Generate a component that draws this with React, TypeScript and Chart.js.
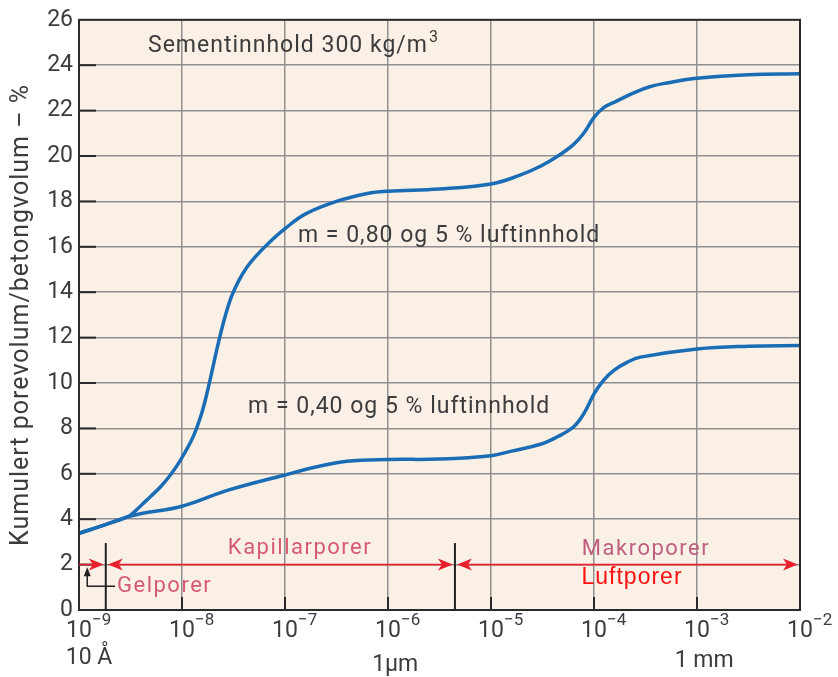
import React, { useEffect, useRef } from 'react';
import { Chart, registerables } from 'chart.js';

Chart.register(...registerables);

// ---- data (x as log10 of pore diameter in metres, y in %) ----
const xTickExponents = [-9, -8, -7, -6, -5, -4, -3, -2];

const upperExp = [-9, -8.75, -8.53, -8.45, -8.38, -8.3, -8.21, -8.13, -8.05, -7.97, -7.89, -7.82, -7.76, -7.7, -7.64, -7.58, -7.52, -7.45, -7.37, -7.28, -7.15, -7.0, -6.8, -6.5, -6.2, -6.0, -5.5, -5.0, -4.75, -4.52, -4.35, -4.2, -4.1, -4.0, -3.9, -3.78, -3.62, -3.46, -3.29, -3.0, -2.5, -2.0];
const upperVal = [3.38, 3.75, 4.1, 4.38, 4.68, 5.02, 5.42, 5.85, 6.35, 6.95, 7.65, 8.5, 9.5, 10.7, 11.9, 12.95, 13.8, 14.5, 15.1, 15.6, 16.2, 16.8, 17.45, 18.0, 18.35, 18.45, 18.55, 18.77, 19.1, 19.55, 20.0, 20.5, 21.0, 21.7, 22.15, 22.42, 22.77, 23.05, 23.22, 23.43, 23.58, 23.62];

const lowerExp = [-9, -8.75, -8.53, -8.38, -8.0, -7.56, -7.0, -6.7, -6.4, -6.0, -5.5, -5.0, -4.8, -4.52, -4.36, -4.2, -4.1, -4.0, -3.91, -3.81, -3.68, -3.55, -3.0, -2.5, -2.0];
const lowerVal = [3.38, 3.75, 4.1, 4.26, 4.57, 5.27, 5.95, 6.3, 6.55, 6.63, 6.65, 6.8, 7.0, 7.3, 7.62, 8.06, 8.64, 9.52, 10.11, 10.55, 10.91, 11.14, 11.5, 11.62, 11.65];

const seriesNames = ['m = 0,80 og 5 % luftinnhold', 'm = 0,40 og 5 % luftinnhold'];
const yTitle = 'Kumulert porevolum/betongvolum – %';
const noteText = 'Sementinnhold 300 kg/m';
const noteSup = '3';
const zoneNames = ['Gelporer', 'Kapillarporer', 'Makroporer', 'Luftporer'];
const unitLabels = ['10 Å', '1µm', '1 mm'];

// zone boundaries (log10 of diameter)
const zoneBounds = [-9, -8.74, -5.35, -2];

const BLUE = '#1a6cb4';
const RED = '#e8202e';
const PINK = '#d65a73';
const MAUVE = '#c0607f';
const TEXT = '#3c3c3c';
const FONT = 'Roboto, "DejaVu Sans", sans-serif';

function text(ctx: CanvasRenderingContext2D, s: string, x: number, y: number, font: string, color: string, align: CanvasTextAlign = 'left', spacing = 0) {
  ctx.save();
  ctx.font = font;
  ctx.fillStyle = color;
  ctx.textAlign = align;
  ctx.textBaseline = 'middle';
  (ctx as any).letterSpacing = spacing + 'px';
  ctx.fillText(s, x, y);
  ctx.restore();
}

function arrowHead(ctx: CanvasRenderingContext2D, tx: number, ty: number, dir: number, color: string, len = 15, half = 6) {
  ctx.save();
  ctx.fillStyle = color;
  ctx.beginPath();
  ctx.moveTo(tx, ty);
  ctx.lineTo(tx - dir * len, ty - half);
  ctx.lineTo(tx - dir * (len - 4), ty);
  ctx.lineTo(tx - dir * len, ty + half);
  ctx.closePath();
  ctx.fill();
  ctx.restore();
}

const decorPlugin = {
  id: 'decor',
  beforeDraw(chart: any) {
    const { ctx, chartArea: a } = chart;
    ctx.save();
    ctx.fillStyle = '#faf0e6';
    ctx.fillRect(a.left, a.top, a.right - a.left, a.bottom - a.top);
    ctx.restore();
  },
  afterDatasetsDraw(chart: any) {
    const { ctx, chartArea: a } = chart;
    const xs = chart.scales.x;
    const ys = chart.scales.y;
    const X = (e: number) => xs.getPixelForValue(Math.pow(10, e));
    const Y = (v: number) => ys.getPixelForValue(v);

    ctx.save();
    ctx.strokeStyle = '#2a2a2a';
    ctx.lineWidth = 2;
    for (let v = 2; v < 26; v += 2) {
      ctx.beginPath();
      ctx.moveTo(a.left, Y(v));
      ctx.lineTo(a.left + 17, Y(v));
      ctx.stroke();
    }
    xTickExponents.slice(1, -1).forEach((e) => {
      ctx.beginPath();
      ctx.moveTo(X(e), a.bottom);
      ctx.lineTo(X(e), a.bottom - 13);
      ctx.stroke();
    });
    ctx.restore();

    ctx.save();
    ctx.strokeStyle = '#2a2a2a';
    ctx.lineWidth = 2;
    ctx.strokeRect(a.left, a.top, a.right - a.left, a.bottom - a.top);
    ctx.restore();

    ctx.save();
    ctx.strokeStyle = '#222';
    ctx.lineWidth = 2;
    [zoneBounds[1], zoneBounds[2]].forEach((e) => {
      ctx.beginPath();
      ctx.moveTo(X(e), Y(2.95));
      ctx.lineTo(X(e), Y(0));
      ctx.stroke();
    });
    ctx.restore();

    const yA = Y(2);
    ctx.save();
    ctx.strokeStyle = RED;
    ctx.lineWidth = 1.6;
    const g = 2;
    ctx.beginPath();
    ctx.moveTo(X(zoneBounds[0]), yA);
    ctx.lineTo(X(zoneBounds[1]) - g - 6, yA);
    ctx.stroke();
    arrowHead(ctx, X(zoneBounds[1]) - g, yA, 1, RED);
    for (let i = 1; i < 3; i++) {
      const l = X(zoneBounds[i]) + g;
      const r = X(zoneBounds[i + 1]) - g;
      ctx.beginPath();
      ctx.moveTo(l + 6, yA);
      ctx.lineTo(r - 6, yA);
      ctx.stroke();
      arrowHead(ctx, l, yA, -1, RED);
      arrowHead(ctx, r, yA, 1, RED);
    }
    ctx.restore();

    ctx.save();
    ctx.strokeStyle = '#222';
    ctx.fillStyle = '#222';
    ctx.lineWidth = 1.5;
    const px = X(-8.92);
    ctx.beginPath();
    ctx.moveTo(px, Y(1.7));
    ctx.lineTo(px, Y(1.05));
    ctx.lineTo(X(-8.65), Y(1.05));
    ctx.stroke();
    ctx.beginPath();
    ctx.moveTo(px, Y(1.88));
    ctx.lineTo(px - 3.5, Y(1.88) + 9);
    ctx.lineTo(px + 3.5, Y(1.88) + 9);
    ctx.closePath();
    ctx.fill();
    ctx.restore();
  },
  afterDraw(chart: any) {
    const { ctx, chartArea: a } = chart;
    const xs = chart.scales.x;
    const ys = chart.scales.y;
    const X = (e: number) => xs.getPixelForValue(Math.pow(10, e));
    const Y = (v: number) => ys.getPixelForValue(v);

    xTickExponents.forEach((e) => {
      const cx = X(e);
      ctx.save();
      ctx.font = `23px ${FONT}`;
      const w = ctx.measureText('10').width;
      ctx.restore();
      text(ctx, '10', cx - w / 2, a.bottom + 21, `23px ${FONT}`, TEXT, 'left');
      text(ctx, '−' + String(-e), cx + w / 2, a.bottom + 11, `17px ${FONT}`, TEXT, 'left');
    });

    text(ctx, unitLabels[0], X(-9) + 10, 658, `23px ${FONT}`, TEXT, 'center');
    text(ctx, unitLabels[1], X(-5.93), 665, `23px ${FONT}`, TEXT, 'center');
    text(ctx, unitLabels[2], X(-2.93), 661, `23px ${FONT}`, TEXT, 'center');

    ctx.save();
    ctx.translate(22, (a.top + a.bottom) / 2);
    ctx.rotate(-Math.PI / 2);
    text(ctx, yTitle, 0, 0, `25px ${FONT}`, TEXT, 'center', 1);
    ctx.restore();

    const nx = X(-8.33);
    const ny = Y(24.83);
    text(ctx, noteText, nx, ny, `23px ${FONT}`, TEXT, 'left', 1);
    ctx.save();
    ctx.font = `23px ${FONT}`;
    (ctx as any).letterSpacing = '1px';
    const nw = ctx.measureText(noteText).width;
    ctx.restore();
    text(ctx, noteSup, nx + nw + 1, ny - 8, `16px ${FONT}`, TEXT, 'left');

    text(ctx, seriesNames[0], X(-6.874), Y(16.48), `23px ${FONT}`, TEXT, 'left', 1);
    text(ctx, seriesNames[1], X(-7.359), Y(8.92), `23px ${FONT}`, TEXT, 'left', 1);

    text(ctx, zoneNames[0], X(-8.631), Y(1.05), `22px ${FONT}`, PINK, 'left', 1.5);
    text(ctx, zoneNames[1], X(-6.854), Y(2.73), `22px ${FONT}`, PINK, 'center', 1.5);
    text(ctx, zoneNames[2], X(-3.495), Y(2.68), `22px ${FONT}`, MAUVE, 'center', 1.5);
    text(ctx, zoneNames[3], X(-3.631), Y(1.41), `23px "Liberation Sans", Arial, sans-serif`, '#ff1010', 'center', 1);
  },
};

export default function App() {
  const ref = useRef<HTMLCanvasElement>(null);
  useEffect(() => {
    if (!ref.current) return;
    const toPts = (ex: number[], vs: number[]) => ex.map((e, i) => ({ x: Math.pow(10, e), y: vs[i] }));
    const chart = new Chart(ref.current, {
      type: 'line',
      data: {
        datasets: [
          {
            label: seriesNames[0],
            data: toPts(upperExp, upperVal),
            borderColor: BLUE,
            borderWidth: 3.5,
            pointRadius: 0,
            tension: 0.4,
            fill: false,
          },
          {
            label: seriesNames[1],
            data: toPts(lowerExp, lowerVal),
            borderColor: BLUE,
            borderWidth: 3.5,
            pointRadius: 0,
            tension: 0.4,
            fill: false,
          },
        ],
      },
      options: {
        responsive: false,
        animation: false,
        layout: { padding: { left: 0, top: 18, right: 38, bottom: 0 } },
        plugins: { legend: { display: false }, tooltip: { enabled: false } },
        scales: {
          x: {
            type: 'logarithmic',
            min: 1e-9,
            max: 1e-2,
            afterBuildTicks: (s: any) => {
              s.ticks = xTickExponents.map((e) => ({ value: Math.pow(10, e) }));
            },
            afterFit: (s: any) => {
              s.height = 67;
            },
            ticks: { display: false },
            grid: { color: '#8f8f8f', lineWidth: 1.5, drawTicks: false },
            border: { display: false },
          },
          y: {
            type: 'linear',
            min: 0,
            max: 26,
            afterFit: (s: any) => {
              s.width = 79;
            },
            ticks: {
              stepSize: 2,
              padding: 6,
              color: TEXT,
              font: { family: FONT, size: 23 },
            },
            grid: { color: '#8f8f8f', lineWidth: 1.5, drawTicks: false },
            border: { display: false },
          },
        },
      },
      plugins: [decorPlugin],
    } as any);
    return () => chart.destroy();
  }, []);
  return (
    <div style={{ position: 'fixed', left: 0, top: 0, width: 838, height: 677, background: '#fff' }}>
      <canvas ref={ref} width={838} height={677} />
    </div>
  );
}
